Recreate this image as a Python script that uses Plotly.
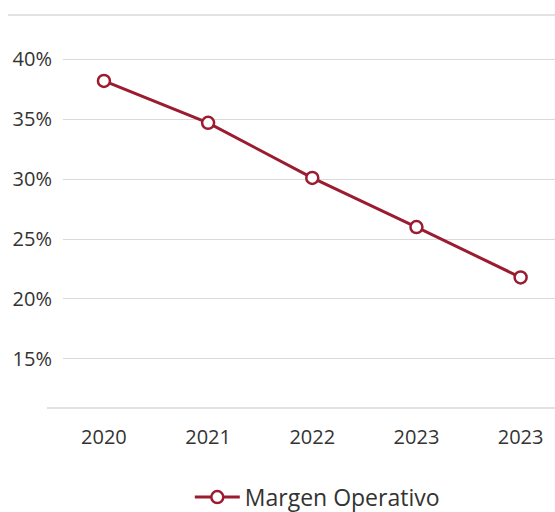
import plotly.graph_objects as go

years = ["2020", "2021", "2022", "2023", "2023"]
margen = [38.2, 34.7, 30.1, 26.0, 21.8]
y_ticks = [15, 20, 25, 30, 35, 40]
y_tick_labels = ["15%", "20%", "25%", "30%", "35%", "40%"]

RED = "#9b1c31"
GRID = "#d9d9d9"
TXT = "#333333"
FONT = "Open Sans"

idx = list(range(len(years)))

fig = go.Figure()
fig.add_trace(go.Scatter(
    x=idx, y=margen, mode="lines+markers", name="Margen Operativo",
    line=dict(color=RED, width=3),
    marker=dict(symbol="circle", size=12, color="white",
                line=dict(color=RED, width=2.5)),
))

fig.update_layout(
    width=555, height=512,
    margin=dict(l=63, r=0, t=15, b=104, autoexpand=False),
    paper_bgcolor="white", plot_bgcolor="white",
    font=dict(family=FONT, size=20, color=TXT),
    showlegend=True,
    legend=dict(orientation="h", xref="container", yref="container",
                x=0.342, xanchor="left", y=0.029, yanchor="middle",
                itemwidth=45,
                font=dict(size=23, color=TXT)),
    xaxis=dict(range=[-0.393, 4.33], tickmode="array", tickvals=idx, ticktext=years,
               showgrid=False, zeroline=False, showline=False, ticks="",
               ticklabelstandoff=15, automargin=False),
    yaxis=dict(range=[10.9, 43.7], tickmode="array", tickvals=y_ticks,
               ticktext=y_tick_labels, showgrid=True, gridcolor=GRID, gridwidth=1,
               zeroline=False, showline=False, ticks="", ticklabelstandoff=10,
               automargin=False),
    shapes=[
        dict(type="line", xref="paper", yref="paper", x0=-0.112, x1=1, y0=1, y1=1,
             line=dict(color=GRID, width=1.5)),
        dict(type="line", xref="paper", yref="paper", x0=-0.0325, x1=1, y0=0, y1=0,
             line=dict(color=GRID, width=1.5)),
    ],
)

fig.write_html("out.html", config={"displayModeBar": False},
               post_script="document.body.style.margin='0';document.body.style.overflow='hidden';")
